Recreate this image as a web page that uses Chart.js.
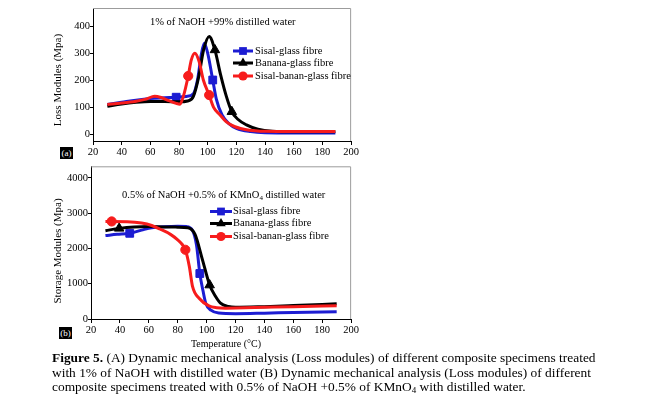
<!DOCTYPE html>
<html><head><meta charset="utf-8">
<script src="https://cdn.jsdelivr.net/npm/chart.js@4/dist/chart.umd.min.js"></script>
<style>
html,body{margin:0;padding:0;background:#fff;width:660px;height:415px;overflow:hidden;font-family:"Liberation Serif","Times New Roman",serif;color:#000;}
.box{position:absolute;}
.ytitle{position:absolute;transform:translate(-50%,-50%) rotate(-90deg);white-space:nowrap;font-size:11px;line-height:12px;}
.note{position:absolute;white-space:nowrap;font-size:10.5px;line-height:13px;}
.note sub{font-size:7px;line-height:0;vertical-align:-2px;}
.tag{position:absolute;background:#000;color:#fff;font-size:9px;line-height:12px;width:13px;height:12px;text-align:center;}
.xtitle{position:absolute;white-space:nowrap;font-size:10px;line-height:12px;transform:translateX(-50%);}
.caption{position:absolute;left:52px;top:351px;font-size:13.4px;line-height:14.5px;white-space:nowrap;}
.caption sub{font-size:9px;line-height:0;vertical-align:-2px;}
</style></head>
<body>
<div class="box" style="left:40px;top:0;width:320px;height:162px"><canvas id="cA" width="320" height="162"></canvas></div>
<div class="box" style="left:40px;top:160px;width:320px;height:180px"><canvas id="cB" width="320" height="180"></canvas></div>
<div class="ytitle" style="left:57px;top:80px">Loss Modules (Mpa)</div>
<div class="ytitle" style="left:57px;top:251px">Storage Modules (Mpa)</div>
<div class="note" style="left:150px;top:15px">1% of NaOH +99% distilled water</div>
<div class="note" style="left:122px;top:188px">0.5% of NaOH +0.5% of KMnO<sub>4</sub> distilled water</div>
<div class="tag" style="left:60px;top:147px">(a)</div>
<div class="tag" style="left:59px;top:327px">(b)</div>
<div class="xtitle" style="left:226px;top:338px">Temperature (°C)</div>
<div class="caption"><b>Figure 5.</b> (A) Dynamic mechanical analysis (Loss modules) of different composite specimens treated<br>with 1% of NaOH with distilled water (B) Dynamic mechanical analysis (Loss modules) of different<br>composite specimens treated with 0.5% of NaOH +0.5% of KMnO<sub>4</sub> with distilled water.</div>
<script>
// ---------- data ----------
const seriesLabels = ['Sisal-glass fibre', 'Banana-glass fibre', 'Sisal-banan-glass fibre'];
const tempTicks = [20, 40, 60, 80, 100, 120, 140, 160, 180, 200];
const lossTicks = [0, 100, 200, 300, 400];
const storageTicks = [0, 1000, 2000, 3000, 4000];

// (a) Loss modulus
const sisalLossT = [30, 40, 50, 60, 70, 78, 85, 90, 93, 95.5, 97.6, 100, 103.5, 106, 110, 115, 120, 130, 140, 160, 189];
const sisalLossV = [110, 118, 126, 132, 135, 137, 140, 150, 205, 295, 338, 300, 201, 130, 71, 38, 21, 9, 5, 4, 4];
const sisalLossMarks = [5, 12];

const bananaLossT = [30, 40, 50, 60, 70, 80, 86, 90, 94, 97, 101, 105, 109, 113, 116.8, 121, 127, 135, 145, 160, 189];
const bananaLossV = [103, 112, 118, 121, 121, 120, 123, 140, 220, 310, 363, 313, 220, 140, 83, 55, 34, 18, 10, 8, 8];
const bananaLossMarks = [11, 14];

const sbLossT = [30, 40, 50, 57, 63, 68, 73, 78, 80.6, 83, 86.4, 88.5, 91, 94, 97, 101, 104, 108.6, 113, 119, 128, 140, 160, 189];
const sbLossV = [110, 115, 122, 130, 141, 135, 124, 114, 111, 140, 216, 275, 301, 270, 200, 145, 100, 71, 45, 27, 15, 10, 9, 9];
const sbLossMarks = [10, 15];

// (b) Storage modulus
const sisalStorT = [30, 38, 46.8, 55, 62, 70, 80, 86, 90, 93, 95.3, 97.5, 99.4, 103, 108.4, 120, 140, 160, 190];
const sisalStorV = [2365, 2400, 2430, 2520, 2590, 2615, 2630, 2620, 2530, 2100, 1290, 800, 449, 250, 168, 150, 165, 185, 205];
const sisalStorMarks = [2, 10];

const bananaStorT = [30, 39.5, 50, 60, 70, 80, 87, 92, 97, 102.1, 106, 109.6, 115, 120, 140, 160, 190];
const bananaStorV = [2505, 2570, 2610, 2620, 2610, 2605, 2590, 2400, 1700, 962, 650, 449, 353, 330, 350, 380, 430];
const bananaStorMarks = [1, 9];

const sbStorT = [30, 34.3, 45, 55, 62, 67.6, 75, 80, 83, 85.3, 88, 90.3, 94.8, 101.6, 107, 113, 120, 140, 160, 190];
const sbStorV = [2766, 2766, 2760, 2720, 2650, 2552, 2400, 2244, 2120, 1963, 1500, 915, 589, 373, 320, 308, 310, 330, 350, 374];
const sbStorMarks = [1, 9];

// ---------- styles ----------
const COLORS = ['#1c1cd2', '#000000', '#f71c1c'];
const STYLES = ['rect', 'triangle', 'circle'];
const RADII = [5.5, 5.5, 4.6];
const FONT = {family: '"Liberation Serif","Times New Roman",serif', size: 10.5};

function pts(t, v) { return t.map((x, i) => ({x: x, y: v[i]})); }

function makeDataset(i, t, v, marks) {
  return {
    label: seriesLabels[i],
    data: pts(t, v),
    borderColor: COLORS[i],
    backgroundColor: COLORS[i],
    borderWidth: 3,
    cubicInterpolationMode: 'monotone',
    pointStyle: STYLES[i],
    pointRadius: ctx => marks.includes(ctx.dataIndex) ? RADII[i] : 0,
    pointHoverRadius: 0,
    pointBorderWidth: 1,
    pointBorderColor: COLORS[i],
    pointBackgroundColor: COLORS[i],
    order: 2 - i
  };
}

function drawMarker(ctx, style, x, y, r) {
  ctx.beginPath();
  if (style === 'rect') {
    const s = Math.SQRT1_2 * r;
    ctx.rect(x - s, y - s, 2 * s, 2 * s);
  } else if (style === 'triangle') {
    ctx.moveTo(x, y - r);
    ctx.lineTo(x + 0.866 * r, y + 0.5 * r);
    ctx.lineTo(x - 0.866 * r, y + 0.5 * r);
    ctx.closePath();
  } else {
    ctx.arc(x, y, r, 0, Math.PI * 2);
  }
  ctx.fill();
}

const framePlugin = {
  id: 'frame',
  beforeDatasetsDraw(chart) {
    const a = chart.chartArea, ctx = chart.ctx;
    ctx.save();
    ctx.strokeStyle = '#9c9c9c';
    ctx.lineWidth = 1;
    ctx.beginPath();
    ctx.moveTo(a.left, a.top + 0.5);
    ctx.lineTo(a.right - 0.5, a.top + 0.5);
    ctx.lineTo(a.right - 0.5, a.bottom);
    ctx.stroke();
    ctx.restore();
  }
};

const legendPlugin = {
  id: 'sampleLegend',
  afterDraw(chart, args, opts) {
    const ctx = chart.ctx;
    ctx.save();
    ctx.font = '10.5px "Liberation Serif","Times New Roman",serif';
    ctx.textBaseline = 'middle';
    ctx.fillStyle = '#000';
    chart.data.datasets.forEach((ds, i) => {
      const y = opts.rows[i];
      ctx.strokeStyle = ds.borderColor;
      ctx.lineWidth = 3;
      ctx.beginPath();
      ctx.moveTo(opts.x0, y);
      ctx.lineTo(opts.x1, y);
      ctx.stroke();
      ctx.fillStyle = ds.borderColor;
      drawMarker(ctx, STYLES[i], (opts.x0 + opts.x1) / 2, y, RADII[i]);
      ctx.fillStyle = '#000';
      ctx.fillText(ds.label, opts.tx, y);
    });
    ctx.restore();
  }
};

function axisX(h) {
  return {
    type: 'linear', min: 20, max: 200,
    afterBuildTicks: s => { s.ticks = tempTicks.map(v => ({value: v})); },
    afterFit: s => { s.height = h; },
    ticks: {font: FONT, color: '#000', maxRotation: 0, autoSkip: false, padding: 1, callback: v => String(v)},
    grid: {display: true, drawOnChartArea: false, tickLength: 4, color: '#000'},
    border: {display: true, color: '#000', width: 1}
  };
}
function axisY(min, max, ticks, w) {
  return {
    type: 'linear', min: min, max: max,
    afterBuildTicks: s => { s.ticks = ticks.map(v => ({value: v})); },
    afterFit: s => { s.width = w; },
    ticks: {font: FONT, color: '#000', padding: 0, callback: v => String(v)},
    grid: {display: true, drawOnChartArea: false, tickLength: 3, color: '#000'},
    border: {display: true, color: '#000', width: 1}
  };
}

const common = {
  responsive: false,
  animation: false,
  events: [],
  plugins: {legend: {display: false}, tooltip: {enabled: false}}
};

new Chart(document.getElementById('cA'), {
  type: 'line',
  data: {datasets: [
    makeDataset(0, sisalLossT, sisalLossV, sisalLossMarks),
    makeDataset(1, bananaLossT, bananaLossV, bananaLossMarks),
    makeDataset(2, sbLossT, sbLossV, sbLossMarks)
  ]},
  options: Object.assign({}, common, {
    layout: {padding: {top: 8, right: 8, left: 0, bottom: 0}},
    scales: {x: axisX(21), y: axisY(-26, 469, lossTicks, 53)},
    plugins: Object.assign({}, common.plugins, {sampleLegend: {x0: 193, x1: 213, tx: 215, rows: [51, 63, 76]}})
  }),
  plugins: [framePlugin, legendPlugin]
});

new Chart(document.getElementById('cB'), {
  type: 'line',
  data: {datasets: [
    makeDataset(0, sisalStorT, sisalStorV, sisalStorMarks),
    makeDataset(1, bananaStorT, bananaStorV, bananaStorMarks),
    makeDataset(2, sbStorT, sbStorV, sbStorMarks)
  ]},
  options: Object.assign({}, common, {
    layout: {padding: {top: 5, right: 7, left: 0, bottom: 0}},
    scales: {x: axisX(21), y: axisY(0, 4330, storageTicks, 51)},
    plugins: Object.assign({}, common.plugins, {sampleLegend: {x0: 170, x1: 192, tx: 193, rows: [51.5, 63.5, 76.5]}})
  }),
  plugins: [framePlugin, legendPlugin]
});
</script>
</body></html>
